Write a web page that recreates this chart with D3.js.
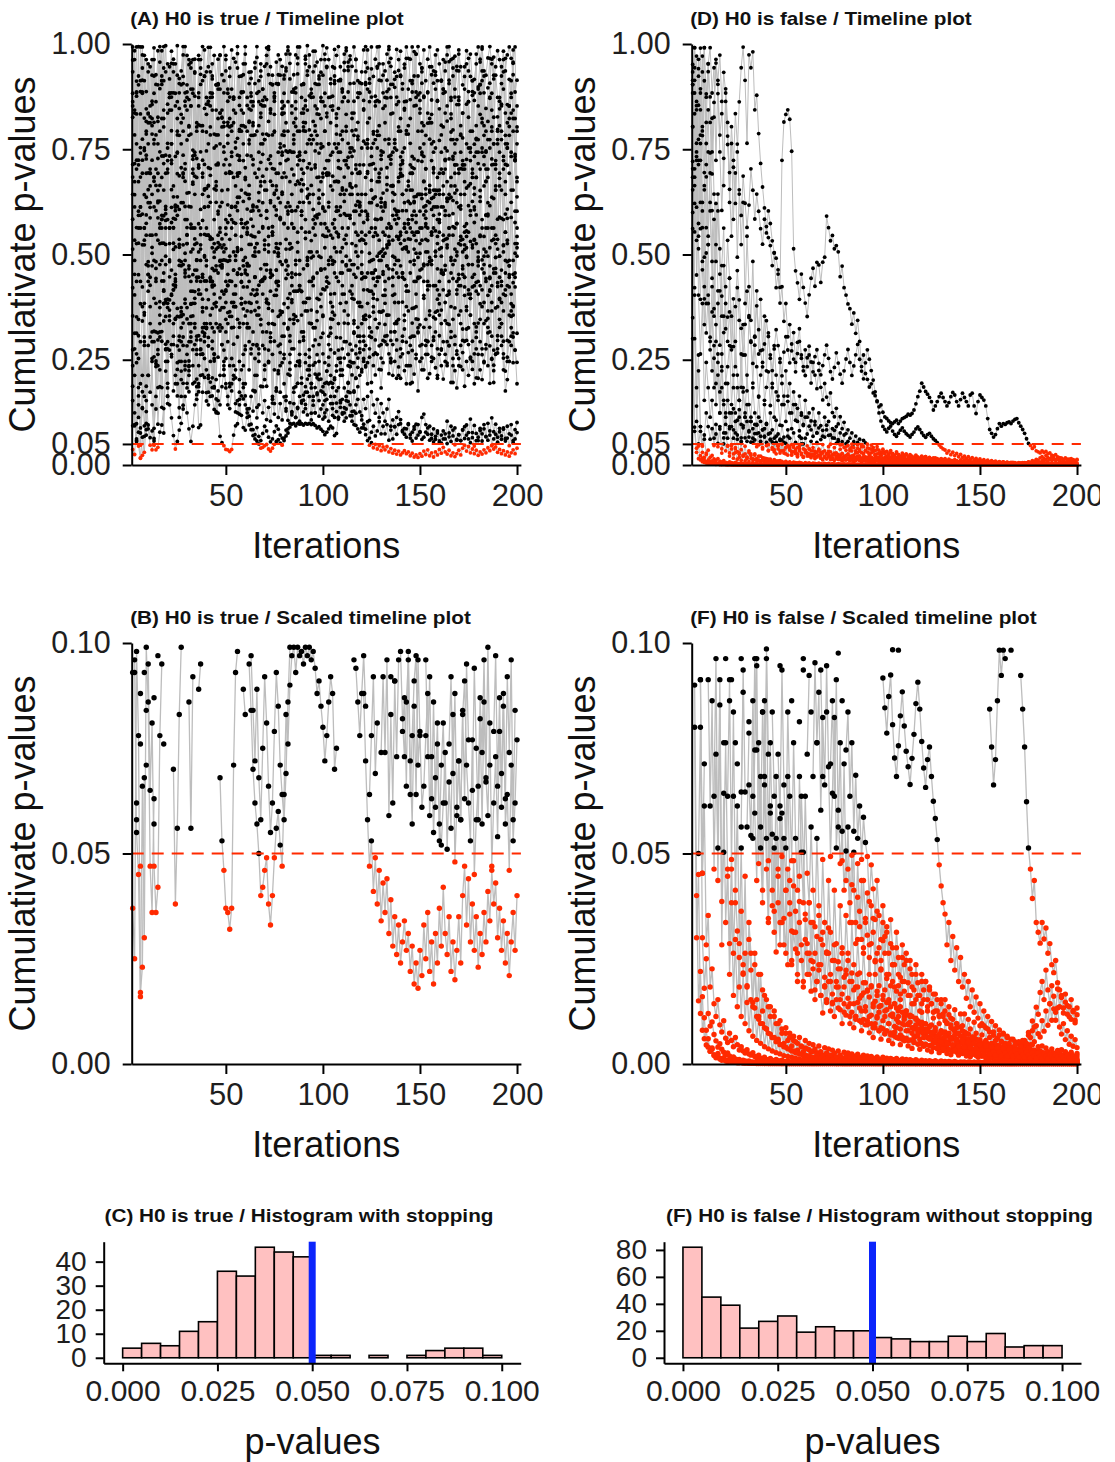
<!DOCTYPE html>
<html>
<head>
<meta charset="utf-8">
<script src="https://d3js.org/d3.v7.min.js"></script>
<style>
body { margin: 0; background: #ffffff; }
svg text { font-family: "Liberation Sans", Arial, Helvetica, sans-serif; }
</style>
</head>
<body>
<svg id="chart" width="1115" height="1462"></svg>
<script>
// every simulated run is followed from iteration 2 to 200
const iterStart = 2;
const iterEnd = 200;
const alpha = 0.05;

const iterTicks = [50, 100, 150, 200];
const fullTicks = [0, 0.05, 0.25, 0.5, 0.75, 1];
const scaledTicks = [0, 0.05, 0.1];
const histTicks = [0, 0.025, 0.05, 0.075, 0.1];
const stopYTicks = [0, 10, 20, 30, 40];
const noStopYTicks = [0, 20, 40, 60, 80];

// histogram counts, bins of 0.005 from 0 to 0.1
const binWidth = 0.005;
const stopCounts = [4, 6, 5, 11, 15, 36, 34, 46, 44, 42, 1, 1, 0, 1, 0, 1, 3, 4, 4, 1];
const noStopCounts = [82, 45, 39, 22, 27, 31, 19, 23, 20, 20, 15, 14, 12, 12, 16, 12, 18, 8, 9, 9];

// cumulative p-values when H0 is true, one string per run, values in 1/1000
const h0TrueRuns = [
`37 25 98 78 17 23 68 187 436 612
503 814 927 652 388 734 943 581 764 917
983 637 442 823 918 706 357 674 843 951
572 748 931 487 808 963 684 437 791 856
688 917 462 843 717 368 803 994 548 806
697 386 873 614 977 797 512 836 683 479
846 918 567 784 406 647 953 738 512 868
987 716 451 872 663 927 588 947 758 483
726 917 603 357 804 929 668 412 803 971
638 877 492 816 948 587 741 933 609 883
947 689 852 477 906 753 542 913 658 873
496 731 972 659 836 521 781 908 442 769
908 697 483 941 792 637 866 503 746 953
618 872 987 715 464 897 748 541 823 687
952 794 537 868 707 982 638 879 503 737
876 616 812 484 927 768 893 526 771 912
694 463 817 958 791 628 971 713 866 534
777 923 658 887 531 878 762 434 898 652
988 713 847 592 871 727 969 493 827 681
857 521 966 712 853 588 954 738 603 846`,
`421 96 55 45 16 66 30 99 86 47
36 63 241 184 336 527 413 287 374 483
612 286 518 743 352 473 691 236 564 448
382 667 524 297 713 436 581 612 327 638
541 276 493 758 528 318 624 487 726 362
437 612 287 663 509 724 453 371 678 548
633 384 617 542 286 427 719 441 523 604
372 628 553 791 433 503 267 648 694 536
563 307 446 689 453 529 793 651 316 538
474 716 368 426 591 262 622 673 418 543
688 432 386 539 407 674 548 302 653 597
526 764 413 476 343 617 468 613 553 294
446 591 353 714 488 552 617 364 507 459
403 666 532 296 647 608 341 486 732 387
441 518 674 621 372 637 576 316 463 721
477 536 293 648 607 351 508 652 404 368
613 474 538 283 636 597 741 497 442 608
453 512 367 616 668 423 576 328 473 637
487 543 594 348 616 563 714 467 424 589
436 294 553 608 452 624 378 526 683 447`,
`883 642 313 527 741 596 824 693 452 587
724 318 483 693 526 437 342 614 293 368
257 512 427 353 687 223 304 463 194 247
316 274 412 186 236 297 453 208 172 143
197 164 132 157 123 68 53 46 37 36
32 37 71 93 98 143 118 89 83 124
95 84 70 62 57 50 40 42 46 49
38 33 40 49 56 60 52 47 64 83
76 90 97 99 93 99 97 98 95 99
97 99 96 98 94 88 91 85 80 72
78 86 92 88 70 75 113 137 156 124
163 194 172 214 243 206 232 267 221 253
284 243 276 303 262 297 326 283 254 296
334 307 264 243 286 317 273 233 257 294
323 292 267 236 272 306 347 314 283 254
226 263 294 327 284 253 231 276 307 336
293 263 242 284 317 346 306 271 253 234
267 294 323 286 252 227 264 303 337 293
262 243 276 314 283 251 237 263 296 327
284 254 223 256 293 326 304 273 244 263`,
`993 716 912 563 834 974 642 887 763 946
864 991 703 826 957 584 913 996 857 734
884 964 617 692 847 936 994 703 772 868
956 883 743 527 973 928 806 714 857 946
992 874 583 903 964 836 652 884 973 618
823 743 869 957 994 694 806 927 976 854
772 603 813 906 968 887 593 866 947 991
927 846 664 884 957 904 716 736 853 936
984 614 836 773 896 967 993 678 794 853
926 974 883 607 746 834 917 963 996 704
827 763 874 946 987 613 847 784 886 956
991 937 668 794 907 963 884 617 753 866
934 986 917 753 786 876 947 994 624 847
773 887 956 904 627 764 856 937 983 716
847 786 893 964 993 727 854 793 884 943
986 704 836 774 867 936 974 613 846 807
883 957 993 727 866 796 874 947 986 704
836 567 857 936 976 913 658 806 893 964
993 936 674 816 907 964 926 653 797 873
946 983 714 856 804 883 957 993 637 876`,
`274 613 834 452 193 376 563 727 483 336
517 684 247 623 476 593 734 386 703 563
654 416 883 741 607 293 824 716 583 473
563 672 396 487 706 513 326 548 437 664
443 537 264 386 517 397 472 213 346 484
353 436 376 207 453 327 396 236 274 423
293 364 177 253 387 264 333 186 237 316
246 303 263 146 176 224 287 243 193 163
216 263 127 183 236 194 243 207 166 134
173 226 194 153 124 167 203 176 143 114
156 193 163 134 113 147 184 153 124 104
133 174 143 117 96 123 156 126 107 88
72 58 47 53 41 49 38 46 34 43
36 44 31 39 28 35 26 33 24 29
34 27 31 22 28 19 24 18 27 21
33 25 36 22 29 19 31 24 37 28
42 31 26 35 22 29 20 27 35 24
40 47 33 44 29 38 27 35 23 31
26 36 29 41 34 46 38 43 30 37
27 34 24 31 21 29 36 27 40 33`,
`962 404 703 253 88 134 362 546 413 623
786 293 547 728 356 683 592 274 394 487
576 663 348 637 524 246 523 614 347 466
383 452 537 274 406 547 316 497 563 303
436 372 247 513 596 333 468 406 253 427
496 563 327 574 507 246 383 336 193 452
524 276 416 367 213 374 436 284 443 187
336 293 147 403 463 217 357 306 263 134
374 227 386 336 186 246 293 147 304 263
226 274 123 283 243 207 153 303 264 124
196 237 274 146 207 176 113 254 226 183
153 196 234 127 173 143 186 213 117 156
134 163 106 174 143 123 156 113 146 124
104 133 156 92 107 91 113 127 98 82
73 86 96 64 78 91 97 71 79 61
66 78 88 59 73 55 68 81 57 52
62 74 51 67 56 83 48 61 72 58
83 91 71 62 53 77 45 58 66 87
74 96 68 59 81 47 62 73 54 79
69 88 57 64 46 71 53 62 77 68`,
`584 836 352 673 913 523 284 476 694 813
643 257 316 587 563 184 527 393 276 354
463 384 193 227 306 374 142 246 183 236
293 354 286 167 174 213 263 313 152 206
163 207 253 127 176 143 186 227 193 163
134 176 213 146 153 121 164 193 164 133
116 163 128 174 112 143 187 124 153 108
137 104 156 121 183 113 146 107 162 128
106 148 119 173 113 137 104 152 126 144
119 163 107 142 124 171 116 133 109 153
131 104 146 118 163 127 109 148 121 136
112 151 117 104 128 94 86 78 88 97
85 103 64 78 92 69 81 103 74 92
74 96 59 83 62 91 73 96 108 79
87 66 98 72 57 85 64 96 78 113
121 96 73 92 63 86 61 76 53 71
81 62 104 76 92 69 88 59 72 58
84 63 95 77 109 65 94 75 58 82
57 86 67 99 71 112 79 97 66 87
61 85 63 92 74 96 58 84 101 70`,
`153 486 763 924 613 342 534 786 654 427
293 674 443 816 304 563 437 597 246 883
763 428 584 372 517 163 793 486 547 224
336 563 197 728 446 523 214 336 657 283
704 427 506 203 326 614 537 246 563 453
364 193 386 497 604 337 434 157 283 366
473 264 497 403 137 276 346 437 226 463
383 314 163 334 416 496 236 364 306 153
326 407 276 413 353 194 247 316 386 243
396 337 183 237 297 364 216 376 313 167
223 286 347 194 356 303 253 213 276 337
386 236 287 243 176 264 327 377 227 274
233 193 256 316 363 214 263 227 183 243
306 356 217 253 213 246 297 346 206 264
224 193 236 284 337 216 253 176 246 286
327 284 206 217 256 304 347 213 263 236
204 246 293 334 196 253 224 183 236 284
323 187 246 213 256 294 336 207 263 226
203 246 286 327 194 253 224 264 307 346
306 264 176 203 246 284 314 273 193 214`,
`643 984 436 724 887 993 563 816 934 703
856 963 384 627 793 924 994 476 723 843
954 586 733 614 273 903 974 853 526 647
786 893 964 437 706 607 724 847 934 992
884 467 656 784 893 973 516 804 693 814
923 986 576 767 686 793 884 953 994 608
817 734 853 943 994 627 836 763 874 953
994 946 566 793 906 974 926 847 917 976
993 954 886 927 974 993 736 873 906 964
996 946 893 934 983 957 904 864 926 976
991 963 917 876 924 973 994 946 893 937
984 957 906 947 993 964 913 883 934 986
994 943 907 874 923 964 993 953 913 884
936 976 994 947 904 933 987 963 926 893
943 993 966 913 886 924 976 994 953 907
873 913 964 993 946 907 934 986 953 914
893 936 974 994 963 924 893 937 976 946
903 946 984 966 923 887 916 953 993 957
913 884 926 967 994 953 917 946 984 963
924 893 936 974 993 966 927 886 914 953`,
`826 313 564 903 684 423 753 594 836 663
473 613 784 297 744 583 456 607 753 873
724 564 346 793 884 763 623 503 646 783
853 703 563 683 307 904 793 653 546 663
784 883 753 624 713 836 927 814 386 576
693 806 874 753 636 724 843 763 646 553
664 783 863 447 613 703 826 893 773 653
563 674 784 703 593 514 623 743 836 723
603 526 643 763 846 733 624 703 814 743
634 553 664 773 853 763 653 573 684 793
723 613 546 653 763 834 743 643 563 684
793 864 753 643 573 663 773 713 603 534
643 753 824 733 633 563 673 783 703 603
546 653 763 834 743 643 573 683 793 723
623 553 663 764 693 603 533 643 753 813
733 643 563 653 763 703 613 543 643 743
803 723 633 563 663 773 713 623 693 783
723 643 573 663 753 693 613 683 773 833
743 663 593 683 773 713 633 703 793 743
653 583 673 763 823 733 653 723 803 763`,
`513 124 62 307 754 943 384 71 213 546
823 396 133 274 627 904 716 353 164 447
794 953 604 283 113 356 683 884 546 234
413 726 934 803 506 263 394 656 873 614
336 184 427 713 904 763 486 273 514 783
943 694 406 226 456 734 886 626 354 563
814 934 726 446 283 506 763 893 653 394
243 463 704 864 606 353 526 784 926 746
473 294 516 743 884 674 426 603 836 953
763 506 336 563 793 904 684 463 643 853
944 723 494 363 583 806 913 704 483 626
833 946 743 526 394 603 814 693 476 353
546 763 886 653 443 584 793 914 726 513
384 563 774 873 664 476 594 803 923 743
534 413 626 823 906 704 503 643 846 934
763 566 436 623 813 694 506 394 583 784
893 726 523 643 834 943 763 574 453 643
836 703 516 406 604 793 884 683 494 626
813 924 746 563 443 636 826 714 536 663
853 934 763 586 473 653 843 726 563 694`,
`714 453 886 603 993 774 523 846 953 693
806 924 467 763 894 984 823 496 836 946
874 527 613 784 906 813 694 456 873 963
853 734 643 463 884 806 693 613 746 864
934 843 526 653 784 893 824 713 486 764
874 793 683 613 736 854 924 473 706 643
763 884 806 693 526 743 856 786 673 603
726 836 904 506 693 634 754 863 793 684
623 746 853 784 486 613 724 836 904 813
706 643 763 874 806 506 634 753 863 793
693 624 736 843 913 824 723 456 773 874
804 706 643 753 864 796 693 624 536 846
904 813 713 653 764 863 783 693 633 743
853 914 524 726 663 773 874 793 703 643
753 864 806 713 653 476 873 924 836 743
674 783 884 813 723 653 753 864 596 703
643 753 853 914 823 733 663 773 874 806
713 523 763 863 793 703 643 743 853 904
823 733 673 773 874 803 536 653 763 864
793 703 643 753 853 913 823 733 673 783`,
`354 784 526 164 436 693 304 574 813 446
253 486 664 534 374 294 416 563 694 526
406 336 453 593 486 364 284 394 526 614
506 384 326 446 573 486 374 306 416 546
624 516 406 336 456 563 476 374 316 426
536 614 506 406 346 466 574 486 386 326
436 546 604 506 416 356 466 563 476 386
336 446 553 614 516 426 366 476 574 486
396 346 456 563 604 506 416 356 466 553
476 396 336 446 546 594 496 406 356 466
563 486 406 346 456 553 604 506 426 366
476 563 486 396 336 446 546 594 506 416
356 456 553 486 406 346 436 534 584 496
416 356 466 563 496 406 336 446 546 604
516 426 366 456 553 486 406 346 446 534
594 506 426 366 476 563 496 416 356 456
546 604 516 436 376 476 563 506 426 366
466 553 496 416 356 446 534 594 506 426
376 476 563 496 416 366 456 546 584 496
426 366 456 534 486 406 356 446 526 574`,
`863 534 243 113 293 174 93 153 95 65
81 47 36 42 78 95 134 223 183 143
112 70 38 56 83 99 133 163 124 86
56 92 143 204 89 95 173 253 324 283
356 436 383 463 546 484 413 506 583 654
593 326 463 546 623 694 436 564 493 576
643 584 316 446 526 604 673 406 534 476
543 623 566 294 436 503 586 643 383 513
453 526 604 346 476 413 486 563 624 366
493 436 506 583 326 456 393 466 546 603
543 476 313 486 563 506 436 384 456 536
593 336 463 406 476 553 496 306 376 446
526 583 326 456 396 463 546 486 286 366
436 516 573 316 446 386 456 536 473 306
356 426 506 563 306 436 376 446 526 466
396 346 416 493 553 296 426 366 436 516
456 386 336 406 486 546 286 416 356 426
506 446 376 326 396 476 536 276 406 346
416 496 436 366 316 386 466 526 276 396
336 406 486 426 356 306 376 456 516 456`,
`236 673 884 593 383 724 913 636 473 304
546 763 604 263 316 486 653 524 384 273
403 563 436 193 246 353 476 384 283 213
304 413 336 156 193 274 364 293 226 173
246 326 263 124 153 213 286 236 183 143
194 253 204 126 124 173 226 184 143 113
134 97 84 72 89 68 58 75 92 81
66 55 62 79 93 85 71 64 58 69
86 99 124 146 113 134 163 194 154 173
204 236 193 163 184 213 246 204 173 194
223 256 213 184 203 236 273 243 213 254
293 263 234 273 313 283 254 293 336 306
346 384 353 413 456 426 393 446 486 453
503 473 526 563 534 493 543 586 553 513
563 604 573 536 583 626 593 553 603 643
613 573 626 664 633 593 643 683 653 613
663 703 673 633 683 726 693 653 703 743
713 673 726 753 723 683 733 773 743 703
753 783 743 703 753 793 763 723 773 806
773 733 783 813 783 743 793 823 793 753`,
`934 843 993 713 563 883 973 793 623 853
963 883 436 903 994 913 803 934 583 873
763 884 953 863 536 833 923 994 903 803
893 963 686 793 873 943 994 923 473 763
853 924 973 903 823 553 843 913 963 883
803 733 813 486 943 873 793 723 803 873
933 863 783 516 793 863 923 853 773 703
783 843 903 833 463 693 763 833 883 813
743 673 743 813 863 793 426 653 723 793
843 773 703 643 713 783 833 763 693 416
693 763 813 743 673 603 673 743 793 723
653 593 663 733 783 713 643 386 643 713
763 693 623 563 633 703 753 683 613 553
623 683 733 663 593 336 603 673 713 643
573 513 583 653 693 623 553 493 563 633
673 603 533 483 553 613 653 583 513 463
533 593 633 563 493 443 513 573 613 543
473 423 493 553 593 523 453 413 483 543
583 513 443 403 473 533 563 493 433 393
463 523 553 483 423 383 453 503 543 473`,
`187 93 264 143 76 213 356 127 284 173
246 87 163 314 226 137 383 276 194 343
263 416 213 164 296 483 337 226 374 293
436 513 384 263 416 563 446 327 486 393
536 423 316 473 603 486 374 523 436 336
486 583 463 376 516 636 543 423 573 473
386 524 613 496 406 553 663 566 446 586
506 413 546 643 526 436 583 683 573 463
596 513 426 563 666 553 453 593 693 583
486 623 533 443 573 683 596 493 613 516
436 556 663 573 483 603 706 613 516 643
546 463 586 693 603 506 626 533 456 576
683 596 503 623 543 463 583 673 586 496
613 523 443 566 663 583 486 603 526 446
563 653 573 483 593 513 436 553 643 563
473 586 506 426 546 636 556 466 576 496
416 536 626 546 456 566 486 406 526 616
536 446 556 476 396 516 606 526 436 546
466 386 506 596 516 426 536 456 376 496
586 506 416 526 446 366 486 576 496 406`,
`684 213 876 346 593 914 163 736 453 827
316 683 904 236 573 823 384 693 146 563
843 306 613 926 474 203 736 583 886 336
613 193 736 486 853 276 643 924 373 546
803 436 186 673 906 523 286 756 413 893
236 613 843 376 693 156 583 806 463 736
326 876 543 213 683 913 436 623 276 786
523 906 366 646 176 743 483 863 336 613
793 243 573 893 413 713 263 603 846 386
656 213 783 496 906 343 633 823 186 573
446 873 326 686 516 223 763 593 893 406
723 263 593 836 453 703 306 883 536 246
603 893 413 676 236 773 496 863 363 646
813 286 543 736 403 916 603 213 693 456
863 376 626 193 733 546 886 326 643 793
436 656 263 823 486 706 363 913 553 276
693 886 403 593 773 236 646 436 856 523
296 713 543 863 406 626 193 776 486 903
563 336 793 623 446 883 273 663 513 846
386 723 596 246 693 836 433 603 763 313`,
`853 963 724 994 613 886 747 963 834 693
926 773 863 984 664 913 843 736 953 883
716 934 853 996 783 623 906 864 973 806
943 693 876 813 963 744 913 986 833 706
873 953 786 663 903 974 826 743 936 864
713 893 966 836 776 923 653 886 953 793
906 843 713 956 883 806 936 686 853 973
816 734 926 876 653 906 963 836 783 943
863 976 703 886 823 953 743 903 666 866
936 796 873 983 706 846 924 873 756 963
836 693 906 853 943 786 673 916 863 976
713 886 963 823 746 936 873 696 906 843
956 773 863 993 716 853 943 806 736 926
873 706 893 966 836 753 923 863 686 906
843 966 786 693 913 853 976 723 866 943
806 703 886 946 833 743 926 866 693 913
963 836 746 906 873 966 713 856 936 786
703 893 953 826 743 913 866 976 716 883
936 806 703 896 966 843 763 926 873 693
906 963 836 753 916 873 986 723 853 946`,
`93 276 58 184 47 136 293 84 213 376
143 57 234 97 186 317 76 246 163 392
286 176 423 243 136 326 194 447 263 174
353 236 463 306 186 406 264 494 336 213
446 294 183 376 256 473 326 213 416 293
186 353 236 426 304 203 383 263 456 336
226 406 286 176 356 246 436 316 203 386
273 456 336 226 403 283 173 363 253 443
323 213 393 276 453 343 236 413 296 186
366 256 436 326 216 396 286 463 353 243
423 306 196 376 266 446 336 226 406 293
473 356 246 426 316 206 386 276 456 346
236 416 306 196 376 266 446 336 226 403
293 473 356 246 426 316 206 386 276 456
343 236 413 303 196 373 263 443 333 226
403 296 476 356 246 426 316 206 383 273
453 343 236 413 303 196 373 263 443 336
226 403 296 476 356 246 426 316 206 383
276 456 343 236 413 306 196 373 266 446
336 226 403 296 473 353 243 423 313 203`
];

// cumulative p-values when H0 is false, values in 1/10000
const h0FalseRuns = [
`7213 9436 6124 8547 9903 7826 6634 8817 9342 8136
6914 8263 9546 8823 7437 6046 7284 8637 7813 6547
5436 7073 8346 7624 6436 5927 6863 6217 5643 6174
7036 6527 5843 6436 6027 5613 5246 5837 5513 6034
5736 5326 5043 4913 4636 4217 7236 8147 8327 8436
8213 7453 5136 4613 4327 3936 4536 4217 3846 3527
4043 4436 4673 4246 4813 4753 4336 4817 4936 5913
5636 5327 5453 5136 5213 5063 4473 4726 4213 4036
3827 3713 3346 3613 3127 3436 2936 2337 2613 2173
2036 1853 1927 1713 1646 1504 1383 1426 1253 1143
1104 1046 1003 984 1023 1063 983 1043 1103 1126
1153 1206 1184 1223 1306 1453 1624 1753 1943 1853
1746 1683 1606 1504 1306 1403 1506 1623 1706 1603
1506 1403 1483 1623 1723 1663 1506 1403 1553 1706
1603 1506 1403 1663 1706 1403 1223 1506 1663 1603
1543 1403 1103 843 753 663 723 863 983 923
983 963 1003 1023 983 1043 1083 1103 1003 923
843 753 623 513 463 393 436 336 313 287
336 297 323 263 286 236 217 246 193 176
163 133 147 118 136 106 127 98 117 104`,
`8836 9913 7643 9236 8437 9713 6946 8136 9527 8743
7436 8613 9636 9043 7836 8346 9327 8836 7613 6946
8036 7236 6213 7436 8627 9436 9927 9136 7643 9743
9436 9813 8436 8783 7873 7163 6603 6106 5663 5403
5213 4736 5036 4213 4536 3846 4236 3413 3836 3046
3336 2713 3146 2436 2913 3236 2536 2236 2736 2336
2613 1946 2436 2136 1813 2246 1846 1546 1936 1613
1436 1713 1246 1146 1346 976 1146 863 1013 746
836 636 763 553 686 536 613 486 586 526
493 386 473 416 343 436 353 296 376 303
326 263 343 276 236 313 253 206 283 236
263 193 246 213 176 236 193 163 213 176
196 153 183 143 166 126 153 116 143 113
126 98 117 86 106 78 96 71 88 66
76 58 71 53 64 49 59 44 53 41
47 37 44 33 39 31 36 28 33 26
31 24 28 22 26 20 24 19 22 17
20 16 19 15 17 14 16 13 15 12
14 11 13 10 12 10 11 9 10 8
10 8 9 7 8 7 8 6 7 6`,
`6536 8343 9713 7136 5613 7936 9127 6846 5236 7413
6043 3536 6213 4136 2846 4736 5627 3236 3513 4436
2813 3946 2336 4213 3436 1846 3336 2613 1763 3546
2913 1946 2846 2336 1613 2136 2436 1536 1846 2213
1413 1936 1136 1736 1536 946 1436 1636 1036 1513
1236 863 1436 1063 1346 813 1183 963 1136 736
923 1046 683 953 763 883 603 823 663 946
706 493 643 823 513 603 476 553 413 506
463 336 426 503 286 396 326 436 263 336
306 213 286 346 213 263 186 246 293 176
203 146 186 236 143 173 126 153 196 113
126 96 116 143 86 106 76 96 123 71
83 63 76 93 56 67 49 61 78 46
53 41 49 61 36 43 33 39 51 29
34 27 31 39 24 27 21 25 33 19
22 17 19 25 15 17 14 16 21 13
14 11 13 16 10 12 9 11 13 9
10 8 9 11 7 8 7 8 9 6
7 6 6 8 5 6 5 6 6 5
5 4 5 6 4 4 4 4 5 3`,
`9136 6836 4513 7236 8836 6036 3946 5636 7436 6236
4836 3713 5236 6436 5136 4013 3146 4236 5336 4436
3536 2813 3763 4617 3924 3247 2613 3342 4128 3506
2947 2413 3061 3782 3214 2716 2331 2874 3427 3052
2618 2243 2756 3214 2837 2524 2117 2683 3046 2731
2427 2874 2516 2213 2647 2936 2614 2338 2126 2547
2823 2446 2214 2573 2738 2415 2143 2362 2617 2846
2534 2217 2043 2318 2664 2421 2157 1943 2236 2518
2743 2436 2127 2354 2617 2863 2512 2231 2046 2427
2736 2514 2243 2017 1738 1524 1237 1046 917 846
786 873 924 806 727 683 756 827 884 803
743 706 664 726 783 856 907 843 766 703
657 723 753 683 624 583 533 473 423 383
356 283 336 246 303 223 276 196 253 183
213 156 196 136 176 123 159 109 143 96
126 86 113 76 101 68 91 61 81 54
73 49 66 44 59 40 53 36 48 33
43 30 39 27 35 25 32 22 29 20
26 18 24 17 22 15 20 14 18 13
17 12 15 11 14 10 13 9 12 8`,
`5613 8836 7327 9413 6236 8036 9913 7636 5436 6936
8236 6436 4836 6036 4536 3536 4736 3836 2936 3636
2736 1836 2936 2136 1536 2636 1736 1236 2136 1436
1136 1836 1236 946 1636 1036 836 1436 986 736
1236 836 636 1063 736 583 936 663 513 836
636 483 763 536 413 683 503 383 636 453
383 563 413 326 536 376 296 486 336 263
436 313 246 413 286 226 376 263 206 353
263 196 336 236 183 296 216 163 276 193
176 253 183 143 243 173 136 226 163 126
213 153 116 196 143 106 186 136 96 173
126 93 163 113 83 153 103 76 143 96
73 136 89 66 123 79 59 113 73 54
103 66 49 93 59 44 86 53 39 79
49 36 71 44 33 64 39 29 58 36
27 53 33 25 48 30 22 44 28 20
41 25 19 37 23 17 34 21 33 46
31 56 42 68 46 79 53 91 72 64
103 78 126 92 143 104 161 123 178 136
158 121 166 139 112 153 124 104 133 118`,
`9036 4213 1836 2613 913 453 613 283 353 183
226 143 113 153 93 76 103 61 51 73
56 41 63 46 33 41 31 26 34 24
21 27 18 15 21 14 12 16 11 10
13 9 8 11 8 7 9 6 6 7
5 5 6 4 4 5 4 3 4 3
3 3 3 2 3 2 2 2 2 2
2 2 2 2 1 1 2 1 1 1
1 1 1 1 1 1 1 1 1 1
1 1 1 1 1 1 1 1 1 1
1 1 1 1 1 1 1 1 1 1
1 1 1 1 1 1 1 1 1 1
1 1 1 1 1 1 1 1 1 1
1 1 1 1 1 1 1 1 1 1
1 1 1 1 1 1 1 1 1 1
1 1 1 1 1 1 1 1 1 1
1 1 1 1 1 1 1 1 1 1
1 1 1 1 1 1 1 1 1 1
1 1 1 1 1 1 1 1 1 1
1 1 1 1 1 1 1 1 1 1`,
`6000 3000 1400 500 800 300 180 250 120 90
100 70 55 40 48 35 28 22 26 19
15 17 12 10 11 8 9 7 6 7
5 5 4 4 5 3 3 3 2 3
2 2 2 2 2 2 1 2 1 1
1 1 1 1 1 1 1 1 1 1
1 1 1 1 1 1 1 1 1 1
1 1 1 1 1 1 1 1 1 1
1 1 1 1 1 1 1 1 1 1
1 1 1 1 1 1 1 1 1 1
1 1 1 1 1 1 1 1 1 1
1 1 1 1 1 1 1 1 1 1
1 1 1 1 1 1 1 1 1 1
1 1 1 1 1 1 1 1 1 1
1 1 1 1 1 1 1 1 1 1
1 1 1 1 1 1 1 1 1 1
1 1 1 1 1 1 1 1 1 1
1 1 1 1 1 1 1 1 1 1
1 1 1 1 1 1 1 1 1 1
1 1 1 1 1 1 1 1 1 1`,
`8036 6213 7436 5136 3936 5636 4236 3136 4036 2936
2236 2836 1436 2136 1236 1836 763 1236 636 913
463 836 383 613 286 513 236 446 183 336
263 146 236 113 213 96 176 86 153 73
136 63 113 53 96 46 83 41 73 36
63 31 56 27 49 24 43 21 38 19
34 17 30 15 27 14 24 12 21 11
19 10 17 9 15 8 14 7 12 7
11 6 10 6 9 5 8 5 7 4
7 4 6 4 5 3 5 3 5 3
4 3 4 3 4 2 3 2 3 2
2 2 2 2 2 2 2 2 2 2
2 2 2 2 2 2 2 2 2 2
2 2 2 1 2 2 1 2 1 1
1 1 1 1 1 1 1 1 1 1
1 1 1 1 1 1 1 1 1 1
1 1 1 1 1 1 1 1 1 1
1 1 1 1 1 1 1 1 1 1
1 1 1 1 1 1 1 1 1 1
1 1 1 1 1 1 1 1 1 1`,
`9513 7036 8636 5436 7236 4636 3336 5036 3836 2736
3636 2536 1936 2636 1736 2236 1536 1136 1536 1236
913 1336 763 1063 1313 646 883 1136 563 786
1036 536 746 963 476 683 413 863 536 346
613 376 513 266 463 336 596 283 413 236
383 236 313 273 196 336 246 183 296 213
263 173 226 153 196 236 163 121 183 146
196 126 166 113 153 183 129 96 143 116
136 96 123 86 113 146 103 79 106 93
103 74 96 63 86 113 79 59 84 71
79 56 74 48 66 86 61 46 64 55
61 43 57 37 51 66 47 35 49 42
47 33 44 29 39 51 36 27 38 32
36 25 34 22 30 39 28 21 29 25
28 19 26 17 23 30 21 16 22 19
21 15 20 13 18 23 16 12 17 15
13 8 12 10 7 12 9 13 19 28
36 52 44 75 63 102 88 135 118 170
196 153 223 176 143 186 131 104 133 88
71 96 58 79 47 66 42 58 39 48`,
`6836 9136 5336 7736 8936 6236 4936 7136 8436 6036
4436 5836 2936 3836 4136 2336 3536 1936 2336 2836
1436 2136 1236 1836 1536 963 1836 1136 1436 813
1036 636 963 746 1136 563 836 663 963 483
763 546 363 683 446 613 336 536 413 683
436 316 483 363 263 446 636 503 356 286
383 246 336 263 196 353 236 313 186 266
323 213 146 283 196 243 153 276 183 223
246 143 216 176 113 213 156 126 193 136
173 113 186 136 96 163 123 86 153 113
146 96 136 113 76 133 99 69 123 93
116 79 113 86 63 109 83 59 99 76
96 63 89 71 51 86 66 46 79 61
76 53 73 59 43 69 53 39 66 49
63 43 59 47 35 56 44 31 53 41
49 35 48 39 29 46 36 26 43 33
41 29 39 31 23 37 29 21 35 27
33 24 31 26 19 30 23 17 29 22
27 19 26 21 16 25 19 14 23 18
22 16 21 17 13 20 15 11 19 15`,
`3500 900 400 150 220 80 110 45 60 30
35 22 18 25 14 11 15 9 8 10
7 6 8 5 4 5 4 3 4 3
3 2 3 2 2 2 2 1 2 1
1 1 1 1 1 1 1 1 1 1
1 1 1 1 1 1 1 1 1 1
1 1 1 1 1 1 1 1 1 1
1 1 1 1 1 1 1 1 1 1
1 1 1 1 1 1 1 1 1 1
1 1 1 1 1 1 1 1 1 1
1 1 1 1 1 1 1 1 1 1
1 1 1 1 1 1 1 1 1 1
1 1 1 1 1 1 1 1 1 1
1 1 1 1 1 1 1 1 1 1
1 1 1 1 1 1 1 1 1 1
1 1 1 1 1 1 1 1 1 1
1 1 1 1 1 1 1 1 1 1
1 1 1 1 1 1 1 1 1 1
1 1 1 1 1 1 1 1 1 1
1 1 1 1 1 1 1 1 1 1`,
`7036 4036 1036 2236 913 453 713 1236 913 613
863 463 736 513 913 386 503 763 446 286
486 263 413 316 183 363 213 263 146 296
223 136 263 153 106 213 126 163 83 136
113 63 126 96 59 103 73 49 86 56
73 43 66 53 33 63 41 29 56 36
49 29 46 36 23 43 29 19 39 26
36 21 33 26 17 31 21 14 28 19
26 16 24 19 13 23 16 11 21 14
19 12 18 14 10 17 12 8 16 11
14 9 13 11 8 13 9 6 12 8
11 7 10 8 6 10 7 5 9 6
8 5 8 6 5 8 5 4 7 5
6 4 6 5 4 6 4 3 5 4
5 3 5 4 3 5 3 3 4 3
4 3 4 3 2 4 3 2 3 2
3 2 3 3 2 3 2 2 3 2
3 2 2 2 2 2 2 2 2 2
2 2 2 2 2 2 1 2 1 2
1 1 2 1 1 1 1 1 1 1`,
`9036 9913 8536 9636 7836 9336 9913 8736 9536 9913
8836 9436 7236 9136 9736 8636 6636 8936 8136 6236
7636 5836 6936 4936 6536 5236 6236 3836 5436 4236
3436 4836 3036 4136 2636 3936 2736 3536 2236 3136
2536 1836 2836 2136 1636 2436 1936 1436 2236 1636
1936 1236 1736 1436 1036 1636 1236 936 1536 1136
1236 836 1336 1036 763 1236 936 683 1136 836
1036 713 863 636 913 563 763 483 713 436
563 383 496 413 336 476 363 296 436 346
406 283 376 313 246 363 276 223 336 263
313 213 286 236 183 276 213 166 253 196
246 163 226 183 143 213 163 126 196 153
196 126 176 143 109 166 126 96 153 119
153 96 136 109 83 129 96 73 119 91
119 73 106 83 63 99 73 56 91 69
91 56 83 63 49 76 56 43 69 53
71 43 63 49 37 59 43 33 53 41
56 33 49 37 29 46 33 25 41 31
43 26 38 29 22 36 26 19 32 24
34 20 29 23 17 28 20 15 25 19`,
`8036 5536 7236 4036 2636 3836 1536 2436 1836 1136
1536 636 963 436 853 283 643 336 463 213
383 163 296 136 253 113 216 96 186 79
153 66 133 56 113 49 96 41 83 36
71 31 63 27 54 24 46 20 40 18
35 16 31 14 27 12 24 11 21 10
19 9 16 8 14 7 13 6 11 6
10 5 9 5 8 4 7 4 7 3
6 3 5 3 5 3 4 2 4 2
4 2 3 2 3 2 3 2 3 2
2 2 2 2 2 2 2 2 2 2
2 2 2 2 2 1 2 1 1 2
1 1 1 1 1 1 1 1 1 1
1 1 1 1 1 1 1 1 1 1
1 1 1 1 1 1 1 1 1 1
1 1 1 1 1 1 1 1 1 1
1 1 1 1 1 1 1 1 1 1
1 1 1 1 1 1 1 1 1 1
1 1 1 1 1 1 1 1 1 1
1 1 1 1 1 1 1 1 1 1`,
`9336 6636 8436 5736 7636 4836 6536 3836 5236 3036
4236 1836 3336 2436 1236 2636 1436 963 1936 863
1236 636 1036 713 1136 563 936 646 1036 663
543 863 596 436 763 513 383 683 463 336
596 413 313 536 383 283 493 346 263 463
356 246 423 313 213 386 283 196 343 263
213 336 243 176 303 223 163 283 206 153
263 196 143 246 183 133 226 166 123 213
156 113 196 143 106 183 133 99 169 126
93 159 116 86 149 109 79 139 103 73
129 96 69 119 89 63 113 83 59 106
79 56 99 73 53 93 69 49 86 63
46 81 59 43 76 56 39 71 53 36
66 49 34 63 46 33 59 43 31 56
41 29 53 39 27 49 36 26 46 34
24 43 31 23 41 29 21 38 28 20
36 26 19 34 25 18 32 23 17 30
22 16 29 21 15 27 19 14 26 19
13 24 18 13 23 17 12 21 16 11
20 15 11 19 14 10 18 13 9 17`,
`3000 800 300 450 120 160 60 80 40 30
38 20 15 22 12 9 12 7 6 8
5 4 5 3 3 4 2 3 2 2
2 2 2 1 1 1 1 1 1 1
1 1 1 1 1 1 1 1 1 1
1 1 1 1 1 1 1 1 1 1
1 1 1 1 1 1 1 1 1 1
1 1 1 1 1 1 1 1 1 1
1 1 1 1 1 1 1 1 1 1
1 1 1 1 1 1 1 1 1 1
1 1 1 1 1 1 1 1 1 1
1 1 1 1 1 1 1 1 1 1
1 1 1 1 1 1 1 1 1 1
1 1 1 1 1 1 1 1 1 1
1 1 1 1 1 1 1 1 1 1
1 1 1 1 1 1 1 1 1 1
1 1 1 1 1 1 1 1 1 1
1 1 1 1 1 1 1 1 1 1
1 1 1 1 1 1 1 1 1 1
1 1 1 1 1 1 1 1 1 1`
];

const red = "#ff2a00";
const svg = d3.select("#chart");
svg.append("defs").append("clipPath").attr("id", "page")
  .append("rect").attr("x", 0).attr("y", 0).attr("width", 1100).attr("height", 1462);
const root = svg.append("g").attr("clip-path", "url(#page)");

function parseRuns(runs, unit) {
  return runs.map(s => s.trim().split(/\s+/)
    .slice(0, iterEnd - iterStart + 1)
    .map((v, i) => ({it: iterStart + i, p: +v / unit})));
}
const trueRuns = parseRuns(h0TrueRuns, 1000);
const falseRuns = parseRuns(h0FalseRuns, 10000);

function styleAxis(sel, size) {
  sel.attr("font-size", size);
  sel.select(".domain").attr("stroke", "#000").attr("stroke-width", 2);
  sel.selectAll(".tick line").attr("stroke", "#000").attr("stroke-width", 2);
  sel.selectAll(".tick text").attr("fill", "#1e1e1e");
}

function plotTitle(txt, x, y, anchor) {
  const t = root.append("text")
    .attr("x", x).attr("y", y)
    .attr("text-anchor", anchor)
    .attr("font-size", 19).attr("font-weight", "bold")
    .attr("fill", "#111")
    .text(txt);
  const w = t.node().getComputedTextLength();
  t.attr("textLength", w * 1.09).attr("lengthAdjust", "spacingAndGlyphs");
}

function axisTitle(txt, x, y, rotate) {
  root.append("text")
    .attr("transform", "translate(" + x + "," + y + ")" + (rotate ? " rotate(-90)" : ""))
    .attr("text-anchor", "middle")
    .attr("font-size", 36)
    .attr("fill", "#111")
    .text(txt);
}

function timeline(o) {
  const g = root.append("g");
  const x = d3.scaleLinear().domain([1.5, 202]).range([o.left, o.left + 389.2]);
  const y = d3.scaleLinear().domain([0, o.ymax]).range([o.bottom, o.top]);

  const line = d3.line()
    .defined(d => d.p <= o.ymax)
    .x(d => x(d.it))
    .y(d => y(d.p));

  g.append("g").selectAll("path")
    .data(o.runs)
    .join("path")
    .attr("d", line)
    .attr("fill", "none")
    .attr("stroke", "#bdbdbd")
    .attr("stroke-width", o.lw);

  const pts = o.runs.flat().filter(d => d.p <= o.ymax);
  g.append("g").selectAll("circle")
    .data(pts)
    .join("circle")
    .attr("cx", d => x(d.it))
    .attr("cy", d => y(d.p))
    .attr("r", o.r)
    .attr("fill", d => d.p < alpha ? red : "#000");

  g.append("line")
    .attr("x1", x.range()[0]).attr("x2", x.range()[1])
    .attr("y1", y(alpha)).attr("y2", y(alpha))
    .attr("stroke", red).attr("stroke-width", 2)
    .attr("stroke-dasharray", "12,8");

  g.append("g")
    .attr("transform", "translate(" + o.left + ",0)")
    .call(d3.axisLeft(y).tickValues(o.ticks).tickFormat(d3.format(".2f"))
      .tickSize(9).tickPadding(12).tickSizeOuter(0))
    .call(s => styleAxis(s, 30.5));

  g.append("g")
    .attr("transform", "translate(0," + o.bottom + ")")
    .call(d3.axisBottom(x).tickValues(iterTicks).tickFormat(d3.format("d"))
      .tickSize(10).tickPadding(9).tickSizeOuter(0))
    .call(s => styleAxis(s, 31));

  plotTitle(o.title, o.left - 1.5, o.top - 19, "start");
  axisTitle("Cumulativate p-values", o.left - 96.7, (o.top + o.bottom) / 2, true);
  axisTitle("Iterations", (x.range()[0] + x.range()[1]) / 2, o.bottom + 92.5, false);
}

function histogram(o) {
  const g = root.append("g");
  const maxC = d3.max(o.counts);
  const x = d3.scaleLinear().domain([-0.005, 0.105]).range([o.left, o.left + 417]);
  const y = d3.scaleLinear().domain([-0.05 * maxC, 1.05 * maxC]).range([1363.3, 1241.7]);

  const bins = o.counts.map((c, i) => ({x0: i * binWidth, x1: (i + 1) * binWidth, c: c}))
    .filter(b => b.c > 0);

  g.append("g").selectAll("rect")
    .data(bins)
    .join("rect")
    .attr("x", b => x(b.x0))
    .attr("width", b => x(b.x1) - x(b.x0))
    .attr("y", b => y(b.c))
    .attr("height", b => y(0) - y(b.c))
    .attr("fill", "#ffc1c1")
    .attr("stroke", "#000")
    .attr("stroke-width", 1.6);

  g.append("line")
    .attr("x1", x(alpha)).attr("x2", x(alpha))
    .attr("y1", y.range()[1]).attr("y2", y.range()[0])
    .attr("stroke", "#0b24fb").attr("stroke-width", 7);

  g.append("g")
    .attr("transform", "translate(" + o.left + ",0)")
    .call(d3.axisLeft(y).tickValues(o.yTicks).tickFormat(d3.format("d"))
      .tickSize(8).tickPadding(9).tickSizeOuter(0))
    .call(s => styleAxis(s, 28));

  g.append("g")
    .attr("transform", "translate(0," + y.range()[0] + ")")
    .call(d3.axisBottom(x).tickValues(histTicks).tickFormat(d3.format(".3f"))
      .tickSize(8).tickPadding(8).tickSizeOuter(0))
    .call(s => styleAxis(s, 30));

  plotTitle(o.title, o.titleX, 1221.5, "middle");
  axisTitle("p-values", o.labelX, 1454, false);
}

timeline({left: 131.7, top: 44, bottom: 465, ymax: 1, ticks: fullTicks, runs: trueRuns,
  r: 1.9, lw: 1, title: "(A) H0 is true / Timeline plot"});
timeline({left: 691.7, top: 44, bottom: 465, ymax: 1, ticks: fullTicks, runs: falseRuns,
  r: 1.9, lw: 1, title: "(D) H0 is false / Timeline plot"});
timeline({left: 131.7, top: 643, bottom: 1064, ymax: 0.1, ticks: scaledTicks, runs: trueRuns,
  r: 2.7, lw: 1.3, title: "(B) H0 is true / Scaled timeline plot"});
timeline({left: 691.7, top: 643, bottom: 1064, ymax: 0.1, ticks: scaledTicks, runs: falseRuns,
  r: 2.7, lw: 1.3, title: "(F) H0 is false / Scaled timeline plot"});

histogram({left: 103.7, counts: stopCounts, yTicks: stopYTicks,
  title: "(C) H0 is true / Histogram with stopping", titleX: 299, labelX: 312.5});
histogram({left: 664, counts: noStopCounts, yTicks: noStopYTicks,
  title: "(F) H0 is false / Histogram without stopping", titleX: 879.5, labelX: 872.5});
</script>
</body>
</html>
